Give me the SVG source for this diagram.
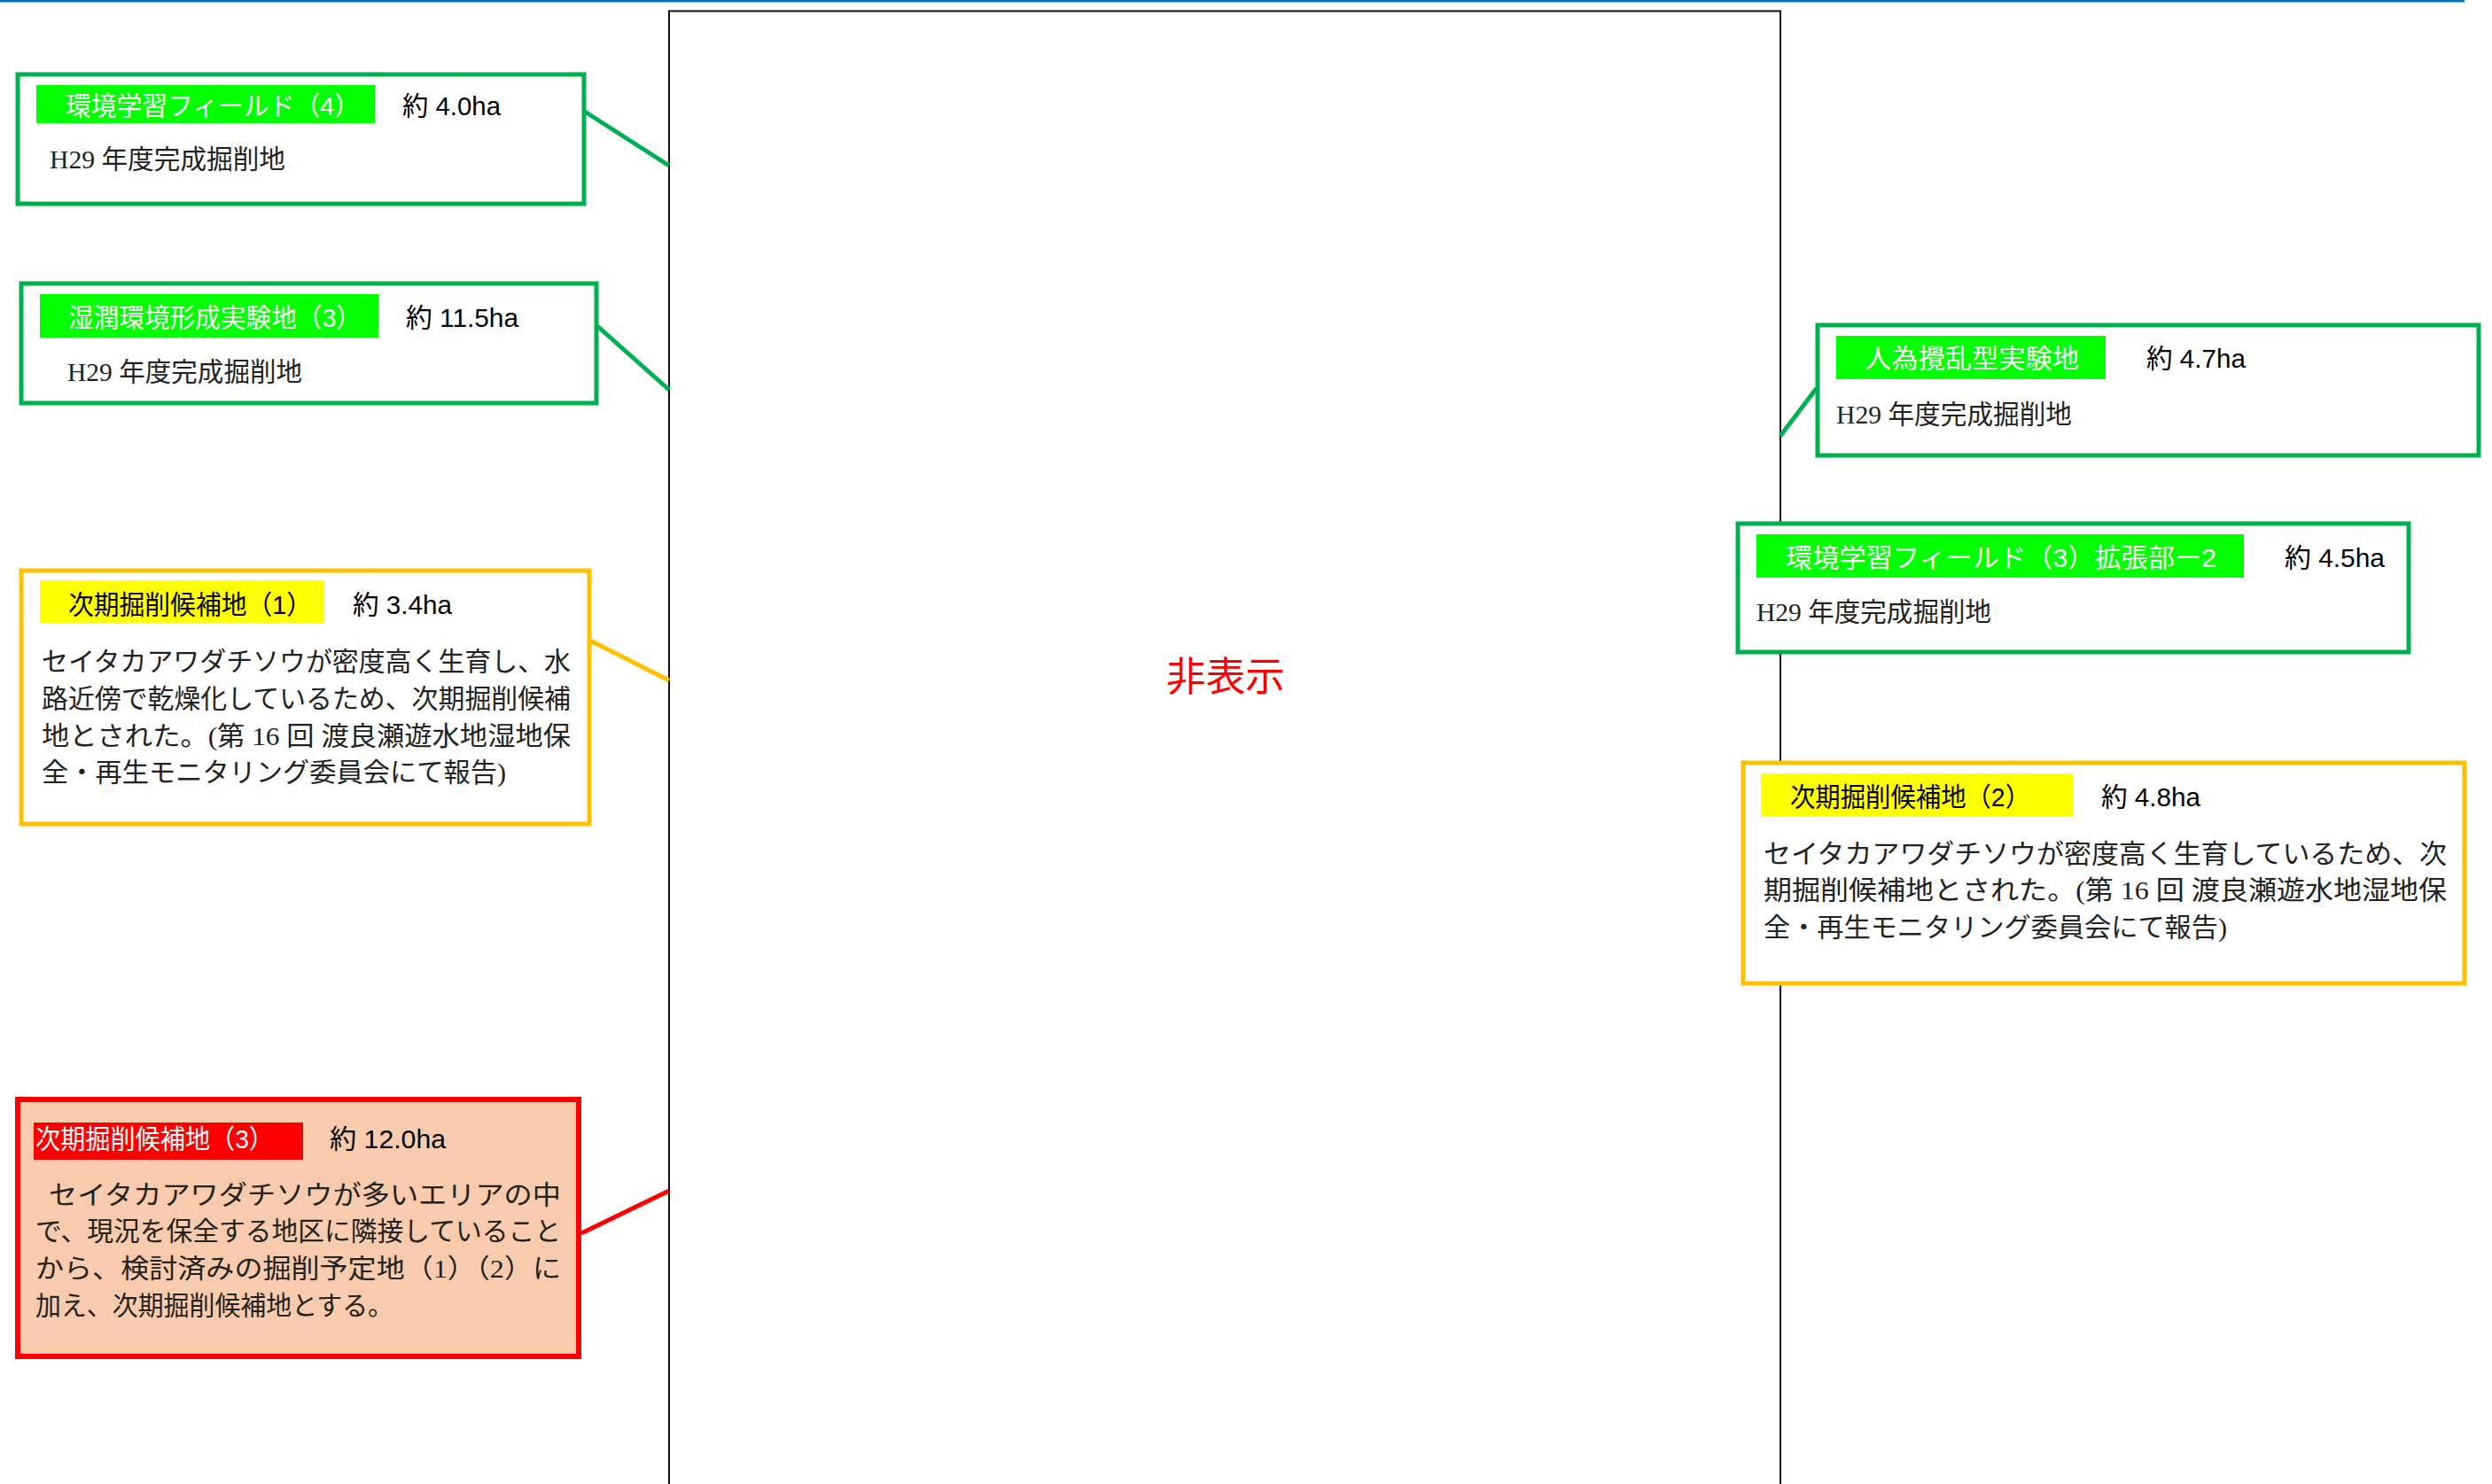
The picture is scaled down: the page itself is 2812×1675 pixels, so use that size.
<svg xmlns="http://www.w3.org/2000/svg" width="2812" height="1675" viewBox="0 0 2812 1675">
<style>
.sans{font-family:"Liberation Sans","Noto Sans CJK JP",sans-serif;font-size:30px;}
.serif{font-family:"Liberation Serif","Noto Sans CJK JP",serif;font-size:30px;fill:#222;}
.lw{fill:#fff;}
.lb{fill:#000;}
.gbox{fill:#fff;stroke:#00B050;stroke-width:5;}
.ybox{fill:#fff;stroke:#FFC000;stroke-width:5;}
.rbox{fill:#F8CBAD;stroke:#FF0000;stroke-width:6;}
.gl{fill:#00FF00;}
.yl{fill:#FFFF00;}
.rl{fill:#FF0000;}
.conn line{stroke-width:5;}
</style>
<rect x="0" y="0" width="2781" height="2.5" fill="#0070C0"/>
<g id="map">
<rect x="755" y="12.5" width="1254" height="1700" fill="#fff" stroke="#111" stroke-width="2"/>
<text x="1316" y="780" font-family="'Noto Sans CJK JP',sans-serif" font-size="45" fill="#FF0000" textLength="134" lengthAdjust="spacingAndGlyphs">非表示</text>
</g>
<g id="connectors" class="conn">
<line x1="660" y1="126" x2="755" y2="187" stroke="#00B050"/>
<line x1="674" y1="368" x2="755" y2="440" stroke="#00B050"/>
<line x1="666" y1="723" x2="755" y2="768" stroke="#FFC000"/>
<line x1="656" y1="1392" x2="755" y2="1344" stroke="#FF0000" stroke-width="6"/>
<line x1="2050" y1="438" x2="2009" y2="492" stroke="#00B050"/>
</g>
<g id="n1">
<rect class="gbox" x="20" y="84" width="639" height="146"/>
<rect class="gl" x="41" y="96" width="382" height="43"/>
<text class="sans lw" x="74" y="130" textLength="332" lengthAdjust="spacingAndGlyphs">環境学習フィールド（4）</text>
<text class="sans lb" x="454" y="130" textLength="111" lengthAdjust="spacingAndGlyphs">約 4.0ha</text>
<text class="serif" x="56" y="190" textLength="266" lengthAdjust="spacingAndGlyphs">H29 年度完成掘削地</text>
</g>
<g id="n2">
<rect class="gbox" x="24" y="320" width="649" height="135"/>
<rect class="gl" x="45" y="332" width="382" height="49"/>
<text class="sans lw" x="77" y="369" textLength="331" lengthAdjust="spacingAndGlyphs">湿潤環境形成実験地（3）</text>
<text class="sans lb" x="458" y="369" textLength="127" lengthAdjust="spacingAndGlyphs">約 11.5ha</text>
<text class="serif" x="76" y="430" textLength="265" lengthAdjust="spacingAndGlyphs">H29 年度完成掘削地</text>
</g>
<g id="n3">
<rect class="ybox" x="24" y="644" width="641" height="286"/>
<rect class="yl" x="45" y="655" width="321" height="48"/>
<text class="sans lb" x="77" y="693" textLength="275" lengthAdjust="spacingAndGlyphs">次期掘削候補地（1）</text>
<text class="sans lb" x="398" y="693" textLength="112" lengthAdjust="spacingAndGlyphs">約 3.4ha</text>
<text class="serif" x="47" y="757" textLength="597" lengthAdjust="spacingAndGlyphs">セイタカアワダチソウが密度高く生育し、水</text>
<text class="serif" x="47" y="799" textLength="597" lengthAdjust="spacingAndGlyphs">路近傍で乾燥化しているため、次期掘削候補</text>
<text class="serif" x="47" y="841" textLength="597" lengthAdjust="spacingAndGlyphs">地とされた。(第 16 回  渡良瀬遊水地湿地保</text>
<text class="serif" x="47" y="882" textLength="524" lengthAdjust="spacingAndGlyphs">全・再生モニタリング委員会にて報告)</text>
</g>
<g id="n4">
<rect class="rbox" x="20" y="1241" width="633" height="290"/>
<rect class="rl" x="38" y="1267" width="304" height="42"/>
<text class="sans lw" x="40" y="1296" textLength="269" lengthAdjust="spacingAndGlyphs">次期掘削候補地（3）</text>
<text class="sans lb" x="372" y="1296" textLength="131" lengthAdjust="spacingAndGlyphs">約 12.0ha</text>
<text class="serif" x="55" y="1359" textLength="578" lengthAdjust="spacingAndGlyphs">セイタカアワダチソウが多いエリアの中</text>
<text class="serif" x="40" y="1400" textLength="593" lengthAdjust="spacingAndGlyphs">で、現況を保全する地区に隣接していること</text>
<text class="serif" x="40" y="1442" textLength="593" lengthAdjust="spacingAndGlyphs">から、検討済みの掘削予定地（1）（2）に</text>
<text class="serif" x="40" y="1484" textLength="404" lengthAdjust="spacingAndGlyphs">加え、次期掘削候補地とする。</text>
</g>
<g id="n5">
<rect class="gbox" x="2051" y="367" width="746" height="147"/>
<rect class="gl" x="2072" y="379" width="304" height="49"/>
<text class="sans lw" x="2104" y="415" textLength="242" lengthAdjust="spacingAndGlyphs">人為攪乱型実験地</text>
<text class="sans lb" x="2422" y="415" textLength="112" lengthAdjust="spacingAndGlyphs">約 4.7ha</text>
<text class="serif" x="2072" y="478" textLength="266" lengthAdjust="spacingAndGlyphs">H29 年度完成掘削地</text>
</g>
<g id="n6">
<rect class="gbox" x="1961" y="591" width="757" height="145"/>
<rect class="gl" x="1982" y="603" width="550" height="49"/>
<text class="sans lw" x="2015" y="640" textLength="486" lengthAdjust="spacingAndGlyphs">環境学習フィールド（3）拡張部ー2</text>
<text class="sans lb" x="2578" y="640" textLength="113" lengthAdjust="spacingAndGlyphs">約 4.5ha</text>
<text class="serif" x="1982" y="701" textLength="265" lengthAdjust="spacingAndGlyphs">H29 年度完成掘削地</text>
</g>
<g id="n7">
<rect class="ybox" x="1967" y="861" width="814" height="249"/>
<rect class="yl" x="1987" y="873" width="352" height="49"/>
<text class="sans lb" x="2020" y="910" textLength="271" lengthAdjust="spacingAndGlyphs">次期掘削候補地（2）</text>
<text class="sans lb" x="2371" y="910" textLength="112" lengthAdjust="spacingAndGlyphs">約 4.8ha</text>
<text class="serif" x="1990" y="974" textLength="771" lengthAdjust="spacingAndGlyphs">セイタカアワダチソウが密度高く生育しているため、次</text>
<text class="serif" x="1990" y="1015" textLength="771" lengthAdjust="spacingAndGlyphs">期掘削候補地とされた。(第 16 回 渡良瀬遊水地湿地保</text>
<text class="serif" x="1990" y="1057" textLength="523" lengthAdjust="spacingAndGlyphs">全・再生モニタリング委員会にて報告)</text>
</g>
</svg>
